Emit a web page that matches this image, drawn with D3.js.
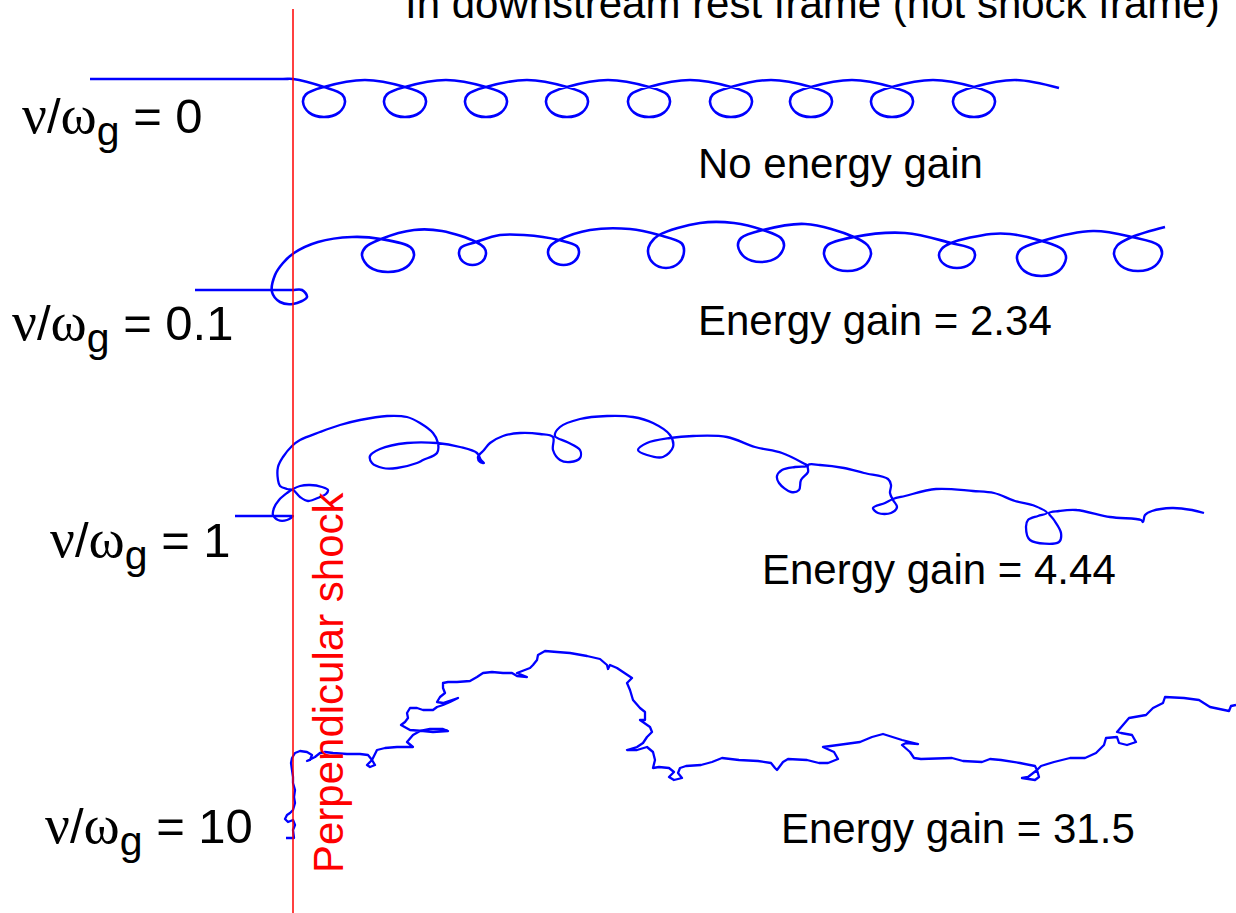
<!DOCTYPE html>
<html>
<head>
<meta charset="utf-8">
<script src="https://cdn.jsdelivr.net/npm/d3@7"></script>
<style>
  body { margin: 0; background: #fff; }
  svg text { font-family: "Liberation Sans", Arial, sans-serif; }
  .greek { font-family: "Liberation Serif", "Times New Roman", serif; }
</style>
</head>
<body>
<script>
// Trajectories in units of 10 px: x measured from the shock, y upward from each row's injection line.
// A 5-element entry [x, y, left, right, bottom] is a gyration loop crossing itself at (x, y).
var ratios = ["0", "0.1", "1", "10"];
var gains = ["No energy gain", "Energy gain = 2.34", "Energy gain = 4.44", "Energy gain = 31.5"];
var titleText = "In downstream rest frame (not shock frame)";
var shockText = "Perpendicular shock";

var traj0 = [
  [-20.3, 0], [-1, 0], [0, 0],
  [3.1, -0.8, 1.0, 5.2, -3.8], [7.2, -0.1],
  [11.2, -0.8, 9.1, 13.3, -3.8], [15.3, -0.1],
  [19.3, -0.8, 17.2, 21.4, -3.8], [23.4, -0.1],
  [27.4, -0.8, 25.3, 29.5, -3.8], [31.5, -0.1],
  [35.6, -0.8, 33.5, 37.7, -3.8], [39.7, -0.1],
  [43.8, -0.8, 41.7, 45.9, -3.8], [47.8, -0.1],
  [51.8, -0.8, 49.7, 53.9, -3.8], [55.9, -0.1],
  [59.9, -0.8, 57.8, 62.0, -3.8], [64.0, -0.1],
  [68.1, -0.8, 66.0, 70.2, -3.8], [72.2, -0.1],
  [76.6, -0.9]
];

var traj1 = [
  [-9.8, 0], [-0.5, 0], [0, 0], [0.9, 0], [1.4, -0.7], [0, -1.4], [-1.3, -1.2], [-2.1, -0.2],
  [-1.8, 1.5], [-1.0, 2.7], [0.1, 3.7], [2.5, 4.8], [5.9, 5.3],
  [8.8, 5.1, 6.9, 12.1, 1.8], [12.1, 6.0], [14.9, 5.9],
  [18.3, 4.8, 16.6, 19.3, 2.5], [20.7, 5.5], [23.1, 5.5],
  [26.6, 5.0, 25.5, 28.6, 2.5], [29.7, 6.0], [33.7, 6.1],
  [36.6, 5.5, 35.5, 39.1, 2.2], [40.7, 6.7], [44.1, 6.7],
  [47.0, 6.0, 44.5, 49.1, 2.8], [51.2, 6.6],
  [56.1, 5.3, 53.1, 57.8, 1.9], [61.2, 5.7],
  [65.8, 4.7, 64.6, 68.2, 2.2], [69.8, 5.6], [71.7, 5.6],
  [74.9, 4.9, 72.4, 77.3, 1.4], [80.0, 5.9],
  [83.9, 5.3, 82.1, 86.9, 1.9], [87.2, 6.3]
];

var traj2 = [
  [-5.8, 0], [-0.5, 0], [0, 0], [-0.6, -0.4], [-1.5, -0.4], [-2.0, 0.1], [-1.9, 0.8], [-1.4, 1.6],
  [-0.6, 2.3], [0, 2.7], [0.7, 3.0], [1.7, 3.1], [2.9, 2.9], [3.5, 2.6], [3.3, 2.2],
  [2.7, 1.9], [1.5, 1.5], [0.7, 1.9], [0, 2.6], [-0.6, 2.7], [-1.3, 3.0], [-1.5, 3.6],
  [-1.5, 4.9], [-1.0, 5.9], [-0.1, 7.0], [0.7, 7.6], [2.7, 8.4], [4.7, 9.1], [6.7, 9.6],
  [9.4, 10.0], [11.4, 9.9], [12.7, 9.3], [14.0, 8.3], [14.5, 7.3], [14.4, 6.3], [13.0, 5.6],
  [12.4, 5.3], [10.4, 4.8], [9.0, 4.8], [7.9, 5.3], [7.7, 6.0], [8.7, 6.7], [11.4, 7.3],
  [14.4, 7.3], [16.7, 6.9], [18.4, 6.3], [18.8, 5.6], [19.1, 5.3], [18.7, 5.4], [18.5, 5.9],
  [19.1, 6.6], [19.7, 7.3], [21.0, 8.0], [22.7, 8.3], [24.7, 8.2], [26.0, 7.9], [26.0, 6.6],
  [26.7, 5.6], [27.7, 5.4], [28.7, 5.8], [28.7, 6.6], [27.4, 7.4], [26.2, 8.0], [26.7, 8.9],
  [28.7, 9.7], [31.4, 10.0], [34.0, 9.9], [36.0, 9.3], [37.7, 8.1], [38.0, 6.9], [37.0, 5.9],
  [35.4, 6.1], [34.5, 6.6], [35.4, 7.3], [37.7, 7.8], [40.0, 8.0], [43.4, 7.9], [46.2, 6.9],
  [48.9, 6.3], [51.0, 5.3], [51.5, 5.0], [50.2, 4.9], [48.9, 4.6], [48.4, 4.0], [48.6, 3.3],
  [49.8, 2.4], [50.6, 2.6], [50.8, 3.6], [51.5, 4.4], [51.5, 5.1], [52.7, 5.1], [55.1, 4.8],
  [57.1, 4.3], [59.5, 3.7], [59.8, 3.1], [59.7, 2.3], [60.0, 1.6], [60.4, 0.9], [59.8, 0.3],
  [58.5, 0.3], [58.0, 0.8], [59.2, 1.3], [60.0, 1.7], [61.2, 2.0], [64.3, 2.7], [68.0, 2.5],
  [70.1, 2.3], [72.2, 1.5], [74.2, 1.0], [75.4, 0.3], [74.5, 0], [73.5, -0.4], [73.3, -1.1],
  [73.7, -2.4], [76.6, -2.6], [76.8, -1.7], [76.1, -0.4], [75.6, 0.3], [76.6, 0.5], [78.3, 0.6],
  [81.7, -0.1], [84.8, -0.4], [85.0, -0.6], [85.2, 0.1], [85.9, 0.5], [87.9, 0.8], [89.9, 0.6],
  [91.1, 0.3]
];

var traj3 = [
  [-0.7, 0], [0.1, 0], [0, 0.8], [0.2, 1.3], [0, 1.8], [-0.5, 1.6], [-0.8, 1.9], [-0.6, 2.3],
  [-0.3, 2.5], [0, 2.8], [0.2, 3.5], [0.1, 4.1], [0.2, 4.8], [0, 5.5], [0, 6.1], [-0.1, 6.8],
  [-0.2, 7.5], [-0.1, 8.0], [0.2, 8.5], [0.7, 8.7], [1.4, 8.6], [1.9, 8.3], [1.7, 7.8],
  [1.4, 7.7], [2.2, 8.1], [2.7, 8.5], [3.2, 8.6], [4.0, 8.5], [5.4, 8.4], [6.7, 8.4],
  [7.5, 8.3], [7.9, 7.8], [7.4, 7.3], [7.7, 7.1], [8.2, 7.3], [7.9, 7.8], [8.4, 8.8],
  [9.2, 9.0], [10.4, 9.1], [12.0, 9.1], [11.4, 9.6], [12.0, 10.3], [12.7, 10.7], [13.7, 10.9],
  [15.0, 10.9], [15.5, 10.7], [14.0, 10.6], [13.0, 10.7], [11.7, 10.8], [10.8, 11.3],
  [11.2, 11.6], [11.5, 12.0], [11.4, 12.5], [11.7, 13.0], [12.4, 13.0], [13.0, 12.8],
  [14.0, 12.8], [14.4, 13.1], [15.0, 13.3], [15.7, 13.6], [16.5, 14.0], [15.0, 13.5],
  [14.4, 13.6], [14.7, 14.1], [15.2, 14.5], [15.0, 15.0], [15.0, 15.5], [15.5, 15.6],
  [16.4, 15.6], [17.7, 15.7], [18.4, 16.1], [19.0, 16.5], [19.9, 16.6], [21.0, 16.5],
  [21.9, 16.5], [22.4, 16.2], [23.4, 16.1], [22.4, 16.5], [23.7, 17.0], [24.0, 17.3],
  [24.4, 17.8], [24.5, 18.3], [25.2, 18.7], [26.4, 18.6], [27.7, 18.5], [29.4, 18.2],
  [30.7, 17.9], [31.4, 17.3], [31.5, 16.9], [31.7, 17.3], [32.4, 17.0], [33.0, 16.6],
  [33.9, 16.0], [33.4, 15.5], [33.7, 14.8], [34.0, 13.8], [34.7, 13.0], [35.2, 12.6],
  [35.2, 11.8], [34.7, 11.8], [35.7, 11.1], [35.9, 10.6], [35.4, 10.1], [35.0, 9.5],
  [34.4, 9.1], [33.4, 8.8], [34.4, 8.8], [35.4, 9.1], [36.0, 8.6], [36.2, 7.8], [36.0, 7.0],
  [36.6, 7.1], [37.6, 7.0], [38.1, 6.6], [37.6, 6.1], [38.1, 5.8], [38.9, 6.0], [38.5, 6.5],
  [38.7, 7.0], [39.3, 7.2], [40.8, 7.3], [41.9, 7.6], [42.9, 8.0], [44.6, 7.8], [46.5, 7.7],
  [47.8, 7.5], [48.2, 7.0], [48.4, 6.8], [49.0, 7.6], [49.5, 7.9], [51.4, 7.8], [52.6, 7.5],
  [53.5, 7.5], [54.5, 7.9], [54.1, 8.6], [53.0, 9.1], [54.5, 9.3], [56.7, 9.6], [57.9, 10.1],
  [59.0, 10.4], [60.9, 9.8], [62.5, 9.4], [61.3, 9.5], [60.9, 9.3], [61.7, 8.6], [62.1, 8.0],
  [62.8, 7.9], [65.9, 8.0], [67.0, 7.7], [68.9, 7.6], [69.7, 7.9], [70.8, 7.8], [72.7, 7.5],
  [74.2, 7.2], [74.4, 6.8], [73.5, 6.1], [72.9, 6.0], [74.2, 5.8], [74.6, 6.1], [74.4, 6.8],
  [74.8, 7.2], [76.1, 7.6], [77.7, 8.0], [79.2, 8.0], [80.3, 8.5], [81.1, 9.3], [81.3, 10.0],
  [82.4, 10.1], [82.6, 9.5], [83.4, 9.3], [84.3, 9.6], [83.9, 10.3], [82.8, 10.5], [82.4, 10.6],
  [83.6, 12.0], [85.3, 12.3], [86.0, 13.0], [87.0, 13.5], [87.2, 14.1], [89.1, 14.0],
  [90.6, 13.8], [91.7, 13.1], [93.6, 12.7], [93.8, 13.2], [94.3, 13.3]
];

var trajectories = [traj0, traj1, traj2, traj3];

function init() {
    var width = 1236;
    var height = 913;

    var svg = d3.select("body").append("svg")
        .attr("width", width)
        .attr("height", height);

    // shared horizontal scale, shock sits at x = 0
    var x = d3.scaleLinear().domain([0, 90]).range([293, 1193]);

    // injection line of each row, in pixels
    var rowBase = [79, 290, 516, 838];
    var yScales = rowBase.map(function(b) {
        return d3.scaleLinear().domain([0, 10]).range([b, b - 100]);
    });

    // expand loop entries into points on an ellipse hanging below the crossing
    function expand(traj) {
        var pts = [];
        traj.forEach(function(d) {
            if (d.length === 2) { pts.push(d); return; }
            var cx = (d[2] + d[3]) / 2, cy = (d[1] + d[4]) / 2;
            var rx = (d[3] - d[2]) / 2, ry = (d[1] - d[4]) / 2;
            pts.push([d[0], d[1]]);
            [30, 0, -45, -90, -135, -180, -210].forEach(function(a) {
                var r = a * Math.PI / 180;
                pts.push([cx + rx * Math.cos(r), cy + ry * Math.sin(r)]);
            });
            pts.push([d[0], d[1]]);
        });
        return pts;
    }

    trajectories.forEach(function(traj, i) {
        var y = yScales[i];
        var line = d3.line()
            .x(function(d) { return x(d[0]); })
            .y(function(d) { return y(d[1]); })
            .curve(i < 3 ? d3.curveCatmullRom.alpha(0.5) : d3.curveLinear);
        svg.append("path")
            .attr("d", line(expand(traj)))
            .attr("fill", "none")
            .attr("stroke", "#0000ff")
            .attr("stroke-width", i < 2 ? 2.6 : 2.3)
            .attr("stroke-linejoin", "round");
    });

    // the shock
    svg.append("line")
        .attr("x1", x(0)).attr("x2", x(0))
        .attr("y1", 9).attr("y2", height)
        .attr("stroke", "#ff0000")
        .attr("stroke-width", 1.5);

    svg.append("text")
        .attr("transform", "translate(343,873) rotate(-90)")
        .attr("font-size", 42)
        .attr("fill", "#ff0000")
        .text(shockText);

    // title, cut by the top edge as in the original slide
    svg.append("text")
        .attr("x", 405).attr("y", 18)
        .attr("font-size", 42)
        .text(titleText);

    // ratio labels on the left
    var labelX = [22, 12, 50, 45];
    var labelY = [133, 340, 557, 843];
    ratios.forEach(function(v, i) {
        var t = svg.append("text")
            .attr("x", labelX[i]).attr("y", labelY[i])
            .attr("font-size", 49);
        t.append("tspan").attr("class", "greek").attr("font-size", 55).text("\u03bd");
        t.append("tspan").text("/");
        t.append("tspan").attr("class", "greek").attr("font-size", 55).text("\u03c9");
        t.append("tspan").attr("font-size", 41).attr("dy", 12).text("g");
        t.append("tspan").attr("dy", -12).text(" = " + v);
    });

    // energy gain labels
    var gainX = [698, 698, 762, 781];
    var gainY = [178, 335, 584, 843];
    gains.forEach(function(g, i) {
        svg.append("text")
            .attr("x", gainX[i]).attr("y", gainY[i])
            .attr("font-size", 42)
            .text(g);
    });
}

window.onload = init;
</script>
</body>
</html>
